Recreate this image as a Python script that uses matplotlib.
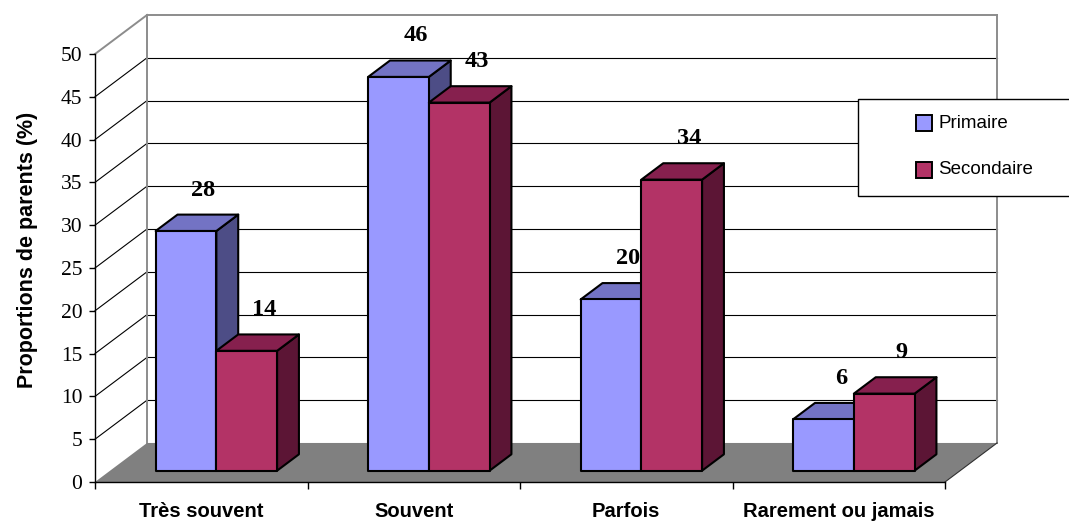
import matplotlib
matplotlib.use("Agg")
import matplotlib.pyplot as plt
from matplotlib.patches import Polygon, Rectangle

# ---- data -------------------------------------------------------------
categories = ["Très souvent", "Souvent", "Parfois", "Rarement ou jamais"]
series_names = ["Primaire", "Secondaire"]
primaire = [28, 46, 20, 6]
secondaire = [14, 43, 34, 9]
y_ticks = list(range(0, 51, 5))
y_label = "Proportions de parents (%)"

# ---- styling ----------------------------------------------------------
front_cols = ["#9999FF", "#B33366"]
top_cols = ["#7373C4", "#86204E"]
side_cols = ["#4D4D86", "#5C1535"]
floor_col = "#808080"
wall_edge = "#8C8C8C"

W, H, DPI = 1069, 523, 100
fig = plt.figure(figsize=(W / DPI, H / DPI), dpi=DPI)
fig.patch.set_facecolor("white")
ax = fig.add_axes([95 / W, 41 / H, 850 / W, 428 / H])
n = len(categories)
ymax = y_ticks[-1]
ax.set_xlim(0, n)
ax.set_ylim(0, ymax)
ax.patch.set_visible(False)

# oblique projection of the full chart depth, in data units
DEPTH_X = 0.245
DEPTH_Y = 4.56
# depth span occupied by the columns (fractions of the chart depth)
F0, F1 = 0.29, 0.71
bar_w = 1 / 3.5
gap = 0.75 * bar_w


def depth(x, y, f):
    return (x + f * DEPTH_X, y + f * DEPTH_Y)


# back wall gridlines and left wall lines
for v in y_ticks[1:]:
    col = wall_edge if v == ymax else "black"
    lw = 1.4 if v == ymax else 0.8
    ax.plot([DEPTH_X, n + DEPTH_X], [v + DEPTH_Y] * 2, color=col, lw=lw,
            clip_on=False, zorder=1)
    ax.plot([0, DEPTH_X], [v, v + DEPTH_Y], color=col, lw=lw,
            clip_on=False, zorder=1)
for xe in (DEPTH_X, n + DEPTH_X):
    ax.plot([xe, xe], [DEPTH_Y, ymax + DEPTH_Y], color=wall_edge, lw=1.4,
            clip_on=False, zorder=1)

# floor
floor = Polygon([(0, 0), (n, 0), (n + DEPTH_X, DEPTH_Y), (DEPTH_X, DEPTH_Y)],
                closed=True, facecolor=floor_col, edgecolor="none",
                clip_on=False, zorder=2)
ax.add_patch(floor)
ax.plot([n, n + DEPTH_X], [0, DEPTH_Y], color="#303030", lw=0.8,
        clip_on=False, zorder=2)

# columns
series = [primaire, secondaire]
z = 3
for i in range(n):
    for s, vals in enumerate(series):
        v = vals[i]
        xl = i + gap + s * bar_w
        xr = xl + bar_w
        kw = dict(closed=True, edgecolor="black", lw=1.5, clip_on=False,
                  joinstyle="round")
        side = Polygon([depth(xr, 0, F0), depth(xr, 0, F1),
                        depth(xr, v, F1), depth(xr, v, F0)],
                       facecolor=side_cols[s], zorder=z, **kw)
        top = Polygon([depth(xl, v, F0), depth(xr, v, F0),
                       depth(xr, v, F1), depth(xl, v, F1)],
                      facecolor=top_cols[s], zorder=z, **kw)
        front = Polygon([depth(xl, 0, F0), depth(xr, 0, F0),
                         depth(xr, v, F0), depth(xl, v, F0)],
                        facecolor=front_cols[s], zorder=z + 0.1, **kw)
        for p in (side, top, front):
            ax.add_patch(p)
        z += 1
        cx, cy = depth((xl + xr) / 2, v, F0)
        ax.annotate(f"{v}", (cx, cy), xytext=(12.5, 29.5),
                    textcoords="offset points", ha="center", va="center",
                    fontsize=17.5, fontweight="bold", family="Liberation Serif",
                    zorder=50, annotation_clip=False)

# axes
for sp in ("top", "right"):
    ax.spines[sp].set_visible(False)
for sp in ("left", "bottom"):
    ax.spines[sp].set_color("black")
    ax.spines[sp].set_linewidth(1.0)
    ax.spines[sp].set_zorder(40)

ax.set_yticks(y_ticks)
ax.set_yticklabels([str(t) for t in y_ticks], family="Liberation Serif",
                   fontsize=15.5)
ax.tick_params(axis="y", direction="out", length=4, width=1, pad=5)

ax.set_xticks(range(n + 1))
ax.set_xticklabels([])
ax.set_xticks([i + 0.5 for i in range(n)], minor=True)
ax.set_xticklabels(categories, minor=True, fontsize=14.5, fontweight="bold",
                   family="Liberation Sans")
ax.tick_params(axis="x", which="major", direction="out", length=5, width=1)
ax.tick_params(axis="x", which="minor", length=0, pad=14.5)

ax.set_ylabel(y_label, fontsize=15.5, fontweight="bold", family="Liberation Sans")
ax.yaxis.set_label_coords(-0.067, 0.542)

# legend box
box = Rectangle((858 / W, 1 - 196 / H), 300 / W, 97 / H,
                transform=fig.transFigure, facecolor="white",
                edgecolor="black", lw=1.0, zorder=60)
fig.add_artist(box)
for s, name in enumerate(series_names):
    yc = 1 - (123 + 47 * s) / H
    sw = Rectangle((916 / W, yc - 8 / H), 16 / W, 16 / H,
                   transform=fig.transFigure, facecolor=front_cols[s],
                   edgecolor="black", lw=1.4, zorder=61)
    fig.add_artist(sw)
    fig.text(938 / W, yc, name, ha="left", va="center", fontsize=13.5,
             family="Liberation Sans", zorder=62)

fig.savefig("out.png", dpi=DPI)
